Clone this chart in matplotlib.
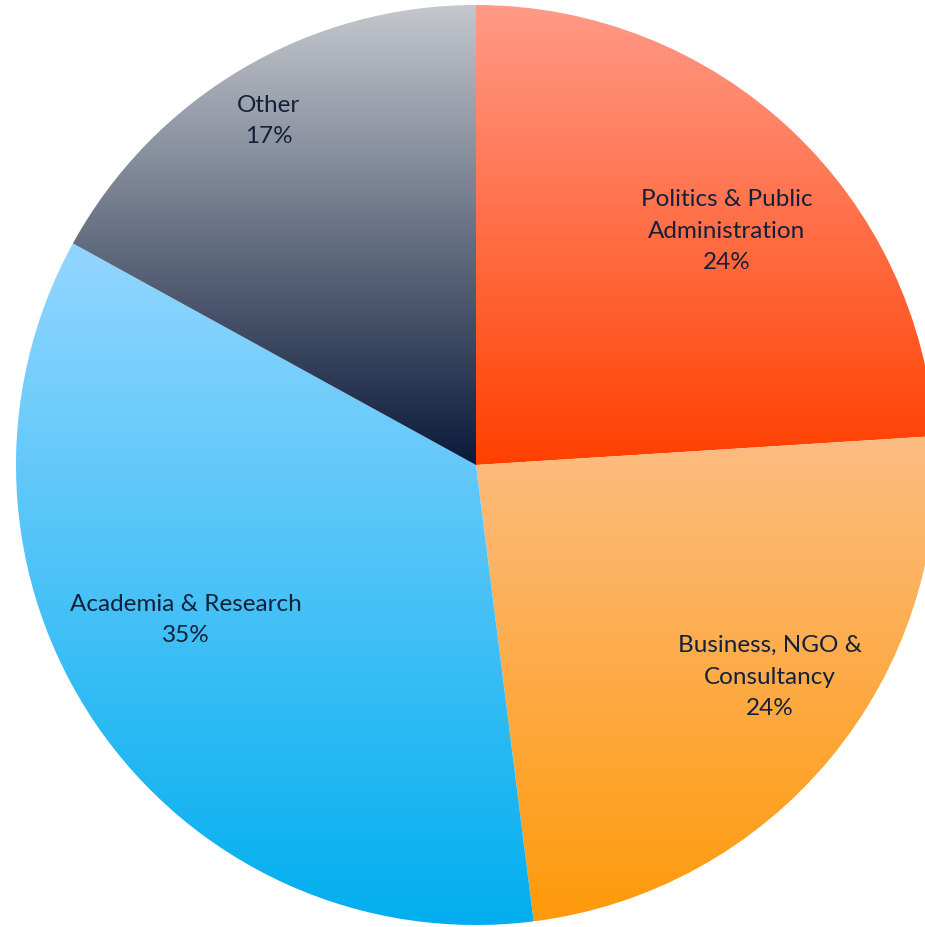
import numpy as np
import matplotlib
matplotlib.use("Agg")
import matplotlib.pyplot as plt
from matplotlib.colors import LinearSegmentedColormap

# data
categories = ["Politics & Public\nAdministration", "Business, NGO &\nConsultancy",
              "Academia & Research", "Other"]
shares = [24, 24, 35, 17]
top_colors = ["#FF9A88", "#FCBC82", "#93D6FF", "#C4C7CD"]
bottom_colors = ["#FF4000", "#FF9A0A", "#00AEEF", "#0A1A3A"]
label_pos = [(727, 696), (770, 250), (186, 307), (269, 806)]

fig = plt.figure(figsize=(9.25, 9.27), dpi=100)
ax = fig.add_axes([0, 0, 1, 1])
ax.set_xlim(0, 925)
ax.set_ylim(0, 927)
ax.set_aspect("equal")
ax.axis("off")

wedges, _ = ax.pie(shares, startangle=90, counterclock=False, center=(476, 462),
                   radius=460, wedgeprops=dict(facecolor="none", edgecolor="none"))

for w, c1, c2 in zip(wedges, top_colors, bottom_colors):
    verts = w.get_path().vertices
    y0, y1 = verts[:, 1].min(), verts[:, 1].max()
    x0, x1 = verts[:, 0].min(), verts[:, 0].max()
    cmap = LinearSegmentedColormap.from_list("g", [c2, c1])
    grad = np.linspace(0, 1, 256).reshape(-1, 1)
    im = ax.imshow(grad, cmap=cmap, origin="lower", aspect="auto",
                   extent=(x0, x1, y0, y1), interpolation="bilinear")
    im.set_clip_path(w)

ax.set_xlim(0, 925)
ax.set_ylim(0, 927)

for (x, y), name, s in zip(label_pos, categories, shares):
    ax.text(x, y, f"{name}\n{s}%", ha="center", va="center", fontsize=17.5,
            family="Lato", color="#14203A", linespacing=1.62)

fig.savefig("out.png", dpi=100)
